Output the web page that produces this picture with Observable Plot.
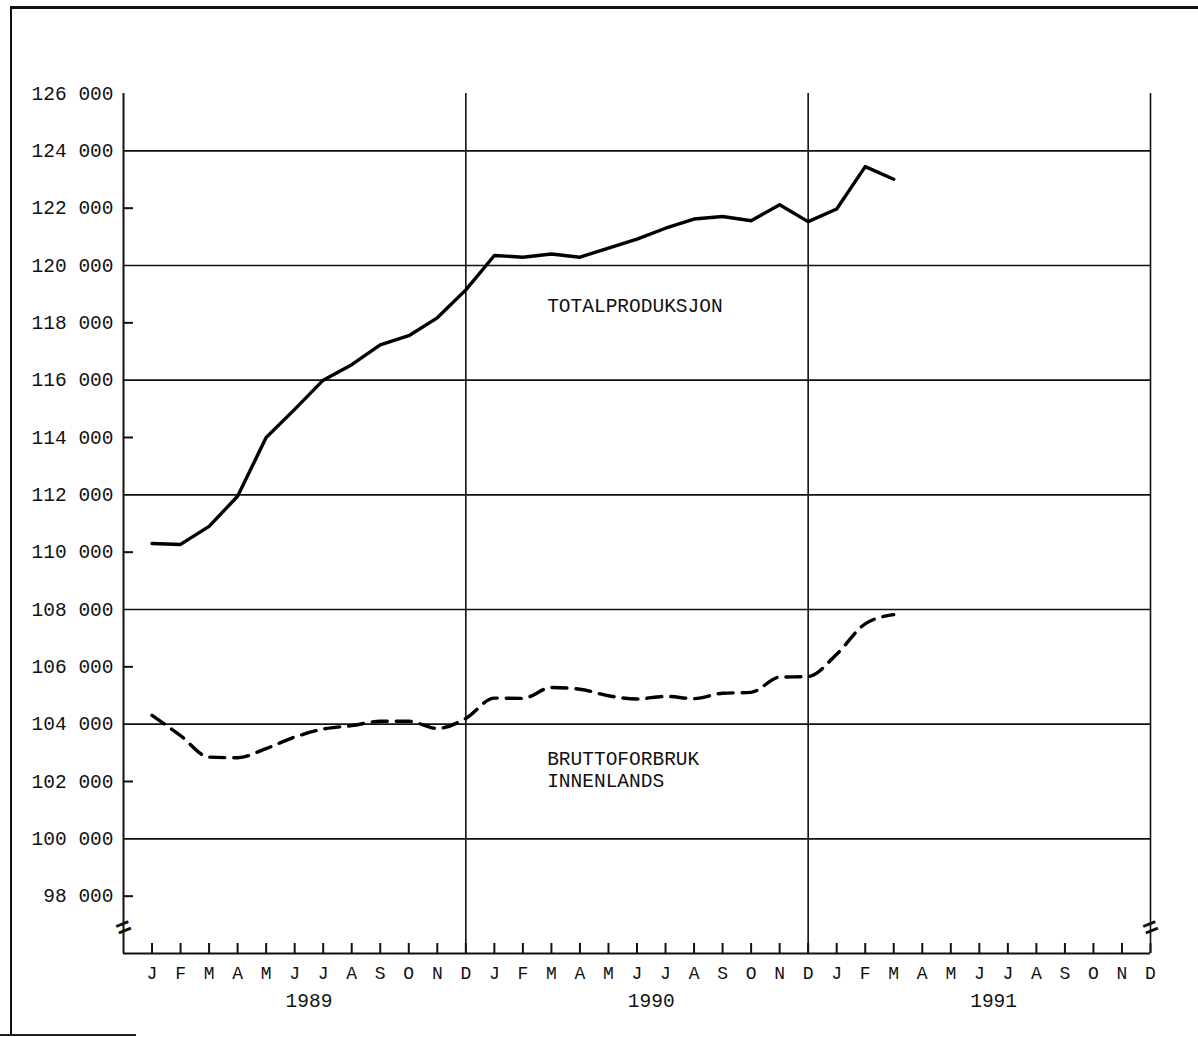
<!DOCTYPE html>
<html>
<head>
<meta charset="utf-8">
<script src="https://cdn.jsdelivr.net/npm/d3@7"></script>
<script src="https://cdn.jsdelivr.net/npm/@observablehq/plot@0.6"></script>
<style>
  html, body { margin: 0; padding: 0; background: #fff; }
  #wrap { position: relative; width: 1198px; height: 1037px; overflow: hidden; }
  #frame { position: absolute; left: 10px; top: 6px; right: 0; bottom: 2px; border-left: 2px solid #111; border-top: 3px solid #111; }
  #foot { position: absolute; left: 0; top: 1034px; width: 136px; height: 2px; background: #222; }
  #chart { position: absolute; left: 0; top: 0; }
</style>
</head>
<body>
<div id="wrap"><div id="frame"></div><div id="foot"></div><div id="chart"></div></div>
<script>
// Month index: 1 = January 1989 ... 36 = December 1991 (0 = axis origin)
const monthIndex = d3.range(1, 28);
const totalproduksjon = [110300, 110270, 110900, 111950, 114000, 114980, 116000, 116540, 117230, 117550, 118175, 119150,
                         120350, 120290, 120400, 120290, 120610, 120920, 121300, 121620, 121710, 121560, 122120, 121530,
                         121970, 123450, 123010];
const bruttoforbruk = [104310, 103600, 102850, 102830, 103150, 103550, 103830, 103950, 104100, 104100, 103850, 104200,
                       104910, 104900, 105280, 105220, 104990, 104880, 104970, 104890, 105080, 105110, 105640, 105660,
                       106440, 107500, 107820];

const monthLetters = ["J","F","M","A","M","J","J","A","S","O","N","D"];
const years = ["1989", "1990", "1991"];
const yTickValues = d3.range(98000, 126001, 2000);
const yGridValues = d3.range(100000, 124001, 4000);
const yearBoundaries = [12, 24, 36];
const seriesLabels = [
  {x: 14.85, y: 118600, text: "TOTALPRODUKSJON"},
  {x: 14.85, y: 102790, text: "BRUTTOFORBRUK"},
  {x: 14.85, y: 102040, text: "INNENLANDS"}
];
const yMin = 96000, yMax = 126000, xMin = 0, xMax = 36;
const axisBreakY = 96900;

const fmt = d3.formatLocale({thousands: " ", grouping: [3], decimal: ","}).format(",");
const monthTicks = d3.range(1, 37).map(i => ({i, label: monthLetters[(i - 1) % 12]}));
const yearTicks = years.map((y, k) => ({x: 6.5 + 12 * k, label: y}));
const minorY = yTickValues.filter(v => !yGridValues.includes(v) && v !== yMax);
const seriesData = monthIndex.map((m, k) => ({m, tot: totalproduksjon[k], brutto: bruttoforbruk[k]}));

const FONT = "'Liberation Mono', 'Courier New', monospace";
const tickLenY = 350;   // ~10px in y units
const tickLenX = 0.35;  // ~10px in x units

const chart = Plot.plot({
  width: 1198,
  height: 1037,
  marginLeft: 123,
  marginRight: 48,
  marginTop: 93,
  marginBottom: 84,
  x: {domain: [xMin, xMax], axis: null},
  y: {domain: [yMin, yMax], axis: null},
  style: {fontFamily: FONT, color: "#111", background: "transparent"},
  marks: [
    // horizontal grid lines
    Plot.ruleY(yGridValues, {x1: xMin, x2: xMax, stroke: "#111", strokeWidth: 1.6}),
    // year boundary verticals (and right axis)
    Plot.ruleX(yearBoundaries, {y1: yMin, y2: yMax, stroke: "#111", strokeWidth: 1.6}),
    // left axis
    Plot.ruleX([xMin], {y1: yMin, y2: yMax, stroke: "#111", strokeWidth: 2}),
    // bottom axis
    Plot.ruleY([yMin], {x1: xMin, x2: xMax, stroke: "#111", strokeWidth: 2}),
    // minor y ticks (inward)
    Plot.ruleY(minorY, {x1: xMin, x2: xMin + tickLenX, stroke: "#111", strokeWidth: 2}),
    // month ticks (inward)
    Plot.ruleX(monthTicks, {x: "i", y1: yMin, y2: yMin + tickLenY, stroke: "#111", strokeWidth: 2}),
    // axis break marks
    Plot.text([xMin, xMax], {x: d => d, y: axisBreakY, text: () => "=", rotate: -22, fontSize: 26, fontWeight: "bold", fill: "#111"}),
    // y labels
    Plot.text(yTickValues, {x: xMin, y: d => d, text: d => fmt(d), textAnchor: "end", dx: -10, fontSize: 19.5, fill: "#111"}),
    // month labels
    Plot.text(monthTicks, {x: "i", y: yMin, text: "label", dy: 20, fontSize: 18, fill: "#111"}),
    // year labels
    Plot.text(yearTicks, {x: "x", y: yMin, text: "label", dy: 47, fontSize: 19.5, fill: "#111"}),
    // series
    Plot.line(seriesData, {x: "m", y: "tot", stroke: "#000", strokeWidth: 3.4, strokeLinejoin: "round"}),
    Plot.line(seriesData, {x: "m", y: "brutto", stroke: "#000", strokeWidth: 3.4, strokeDasharray: "15,9", curve: "monotone-x"}),
    // series labels
    Plot.text(seriesLabels, {x: "x", y: "y", text: "text", textAnchor: "start", fontSize: 19.5, fill: "#111"})
  ]
});
document.getElementById("chart").appendChild(chart);
</script>
</body>
</html>
